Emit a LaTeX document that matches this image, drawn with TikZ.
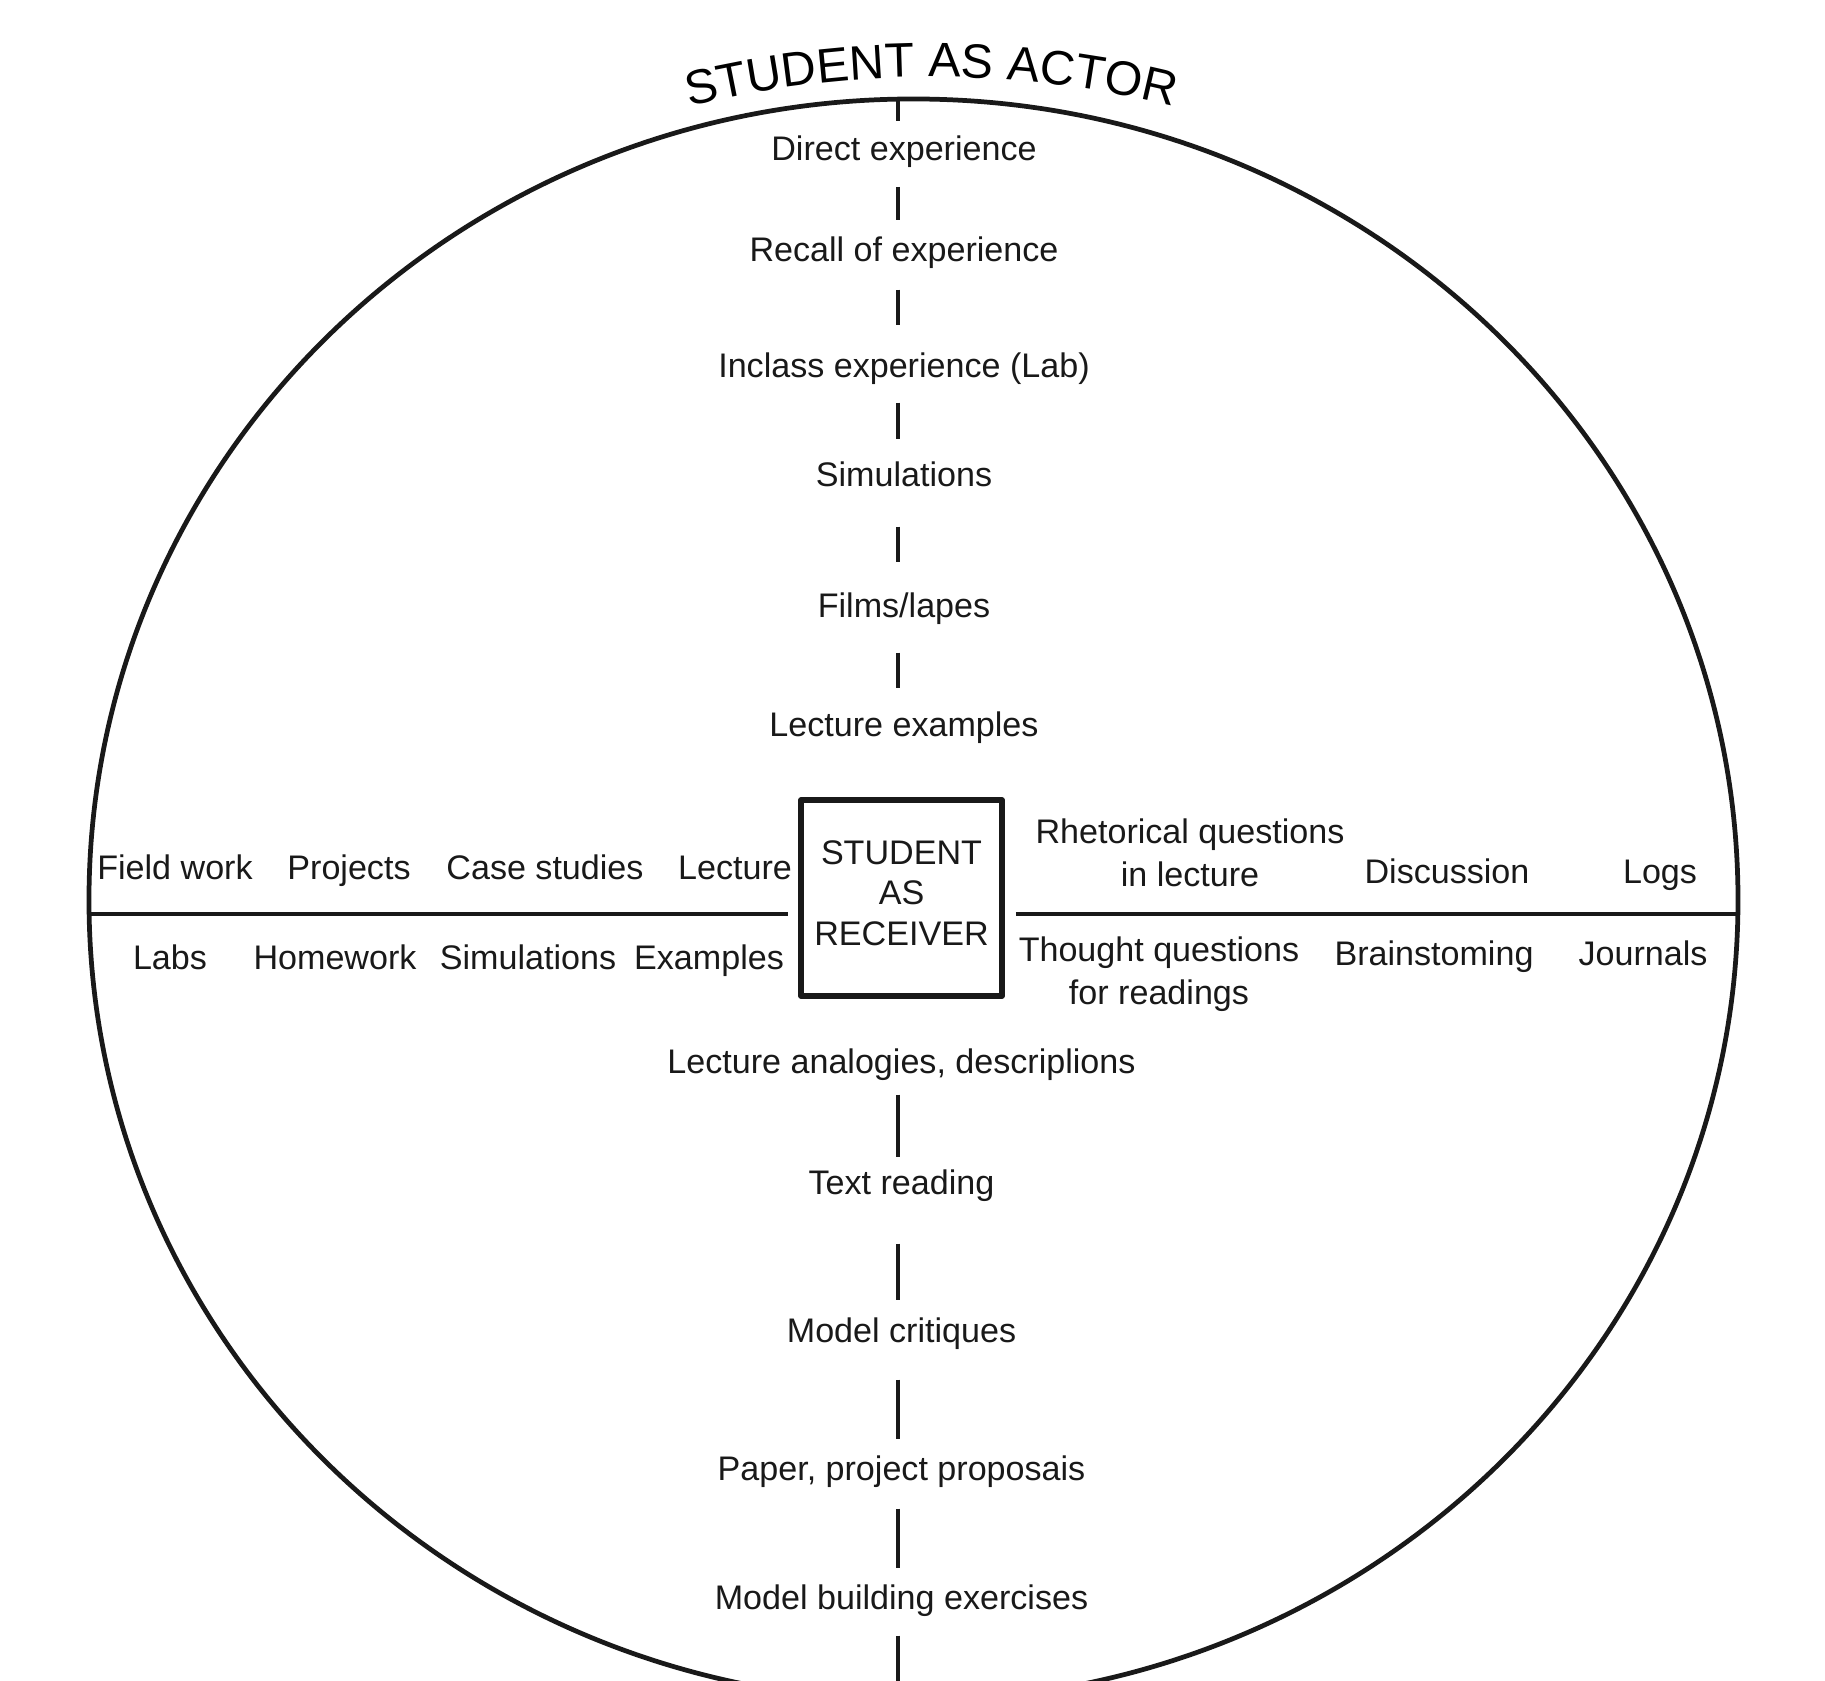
\documentclass[tikz,border=0pt]{standalone}
\usepackage{fontspec}
\setmainfont{Liberation Sans}
\usetikzlibrary{decorations.text}
\begin{document}
\begin{tikzpicture}[line join=round,color=black!90,font=\fontsize{9.7}{12.2}\selectfont]
\tikzset{item/.style={inner sep=0pt,text height=0.285cm,text depth=0.04cm},
pair/.style={inner sep=0pt,align=center},
rim/.style={line width=1.35pt},
axisseg/.style={line width=1.4pt},
recvbox/.style={draw,line width=1.6pt,minimum width=2.01cm,minimum height=1.96cm,inner sep=0pt,align=center,text depth=0.1cm,font=\fontsize{9.7}{11.5}\selectfont}}
\useasboundingbox (-8.98,-7.67) rectangle (9.27,9.14);
\draw[rim] (0.155,0.14) ellipse (8.245cm and 8.01cm);
\coordinate (top) at (0,8.15);
\coordinate (bot) at (0,-7.8);
\coordinate (west) at (-8.09,0);
\coordinate (east) at (8.40,0);
\path[decorate,decoration={text along path,text align=center,text={|\fontsize{13.75}{16}\selectfont|STUDENT AS ACTOR}}] (0.33,-1.66) ++(110:10.03) arc (110:70:10.03);
\node[recvbox] (recv) at (0.035,0.16) {STUDENT\\AS\\RECEIVER};
\foreach \n/\y/\t in {dir/7.66/Direct experience,rec/6.65/Recall of experience,inc/5.49/Inclass experience (Lab),sim/4.40/Simulations,film/3.09/{Films/lapes},lex/1.90/Lecture examples}
\node[item] (\n) at (0.06,\y) {\t};
\foreach \n/\y/\t in {lad/-1.47/{Lecture analogies, descriplions},txt/-2.68/Text reading,mcr/-4.16/Model critiques,ppp/-5.54/{Paper, project proposais},mbe/-6.83/Model building exercises}
\node[item] (\n) at (0.035,\y) {\t};
\foreach \n/\x/\t in {fw/-7.23/Field work,proj/-5.49/Projects,cs/-3.53/Case studies,lec/-1.63/Lecture}
\node[item] (\n) at (\x,0.47) {\t};
\foreach \n/\x/\t in {labs/-7.28/Labs,hw/-5.63/Homework,simb/-3.70/Simulations,ex/-1.89/Examples}
\node[item] (\n) at (\x,-0.43) {\t};
\node[pair] (rq) at (2.92,0.61) {Rhetorical questions\\in lecture};
\node[item] (disc) at (5.49,0.43) {Discussion};
\node[item] (logs) at (7.62,0.43) {Logs};
\node[pair] (tq) at (2.61,-0.60) {Thought questions\\for readings};
\node[item] (brs) at (5.36,-0.39) {Brainstoming};
\node[item] (jour) at (7.45,-0.39) {Journals};
\draw[axisseg,shorten >=0.0975cm] (top) -- (dir.north -| top);
\foreach \a/\b/\sa/\sb in {dir/rec/0.22/0.1175,rec/inc/0.2375/0.2275,inc/sim/0.2075/0.1775,sim/film/0.3575/0.2575,film/lex/0.3075/0.1875,lad/txt/0.1675/0.0775,txt/mcr/0.4475/0.1275,mcr/ppp/0.3275/0.1175,ppp/mbe/0.2375/0.1175}
\draw[axisseg,shorten <=\sa cm,shorten >=\sb cm] (\a.south -| top) -- (\b.north -| top);
\draw[axisseg,shorten <=0.2175cm] (mbe.south -| top) -- (bot);
\draw[axisseg,shorten >=0.1cm] (west) -- (recv.west |- west);
\draw[axisseg,shorten <=0.11cm] (recv.east |- east) -- (east);
\end{tikzpicture}
\end{document}
